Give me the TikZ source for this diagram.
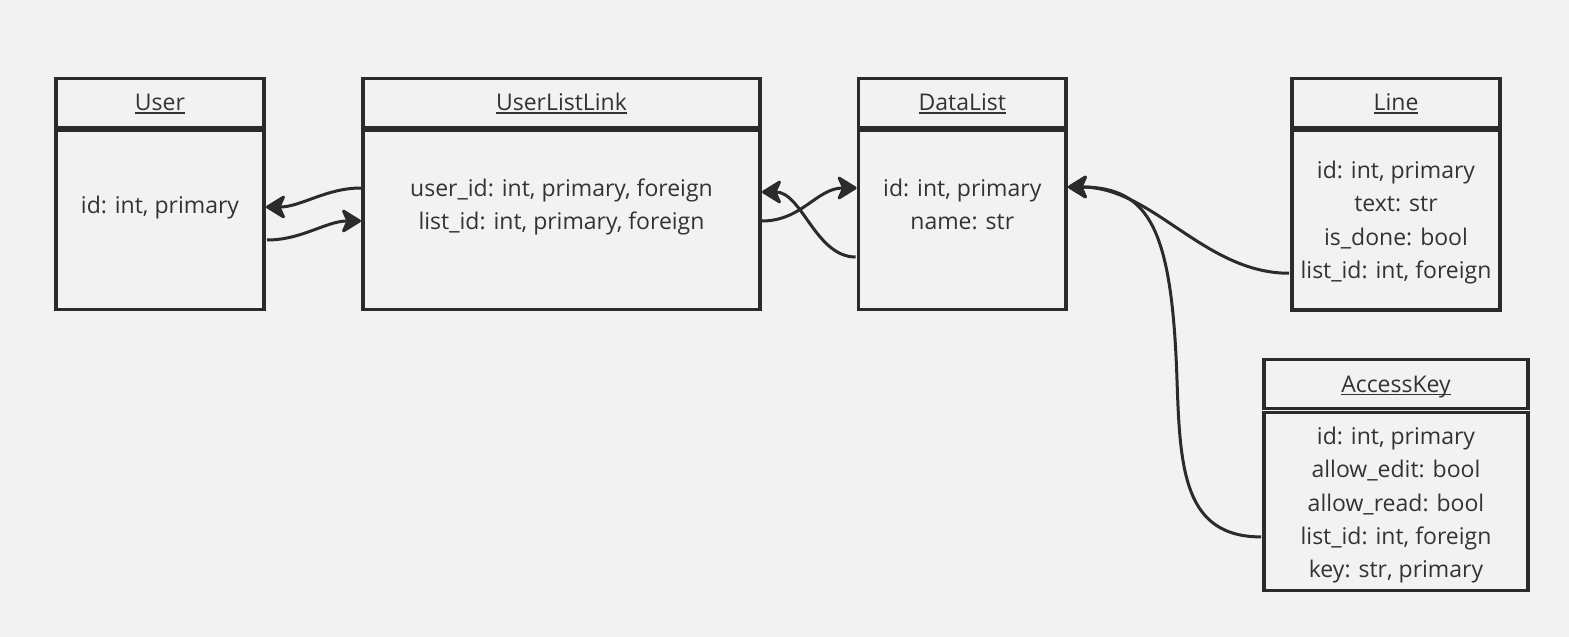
\documentclass[tikz,border=0pt]{standalone}
\usepackage{fontspec}
\setmainfont{Open Sans}
\usetikzlibrary{arrows.meta,calc}
\definecolor{bg}{HTML}{F2F2F2}
\definecolor{ink}{HTML}{2B2B2B}
\definecolor{txt}{HTML}{333333}
\newcommand{\uln}[1]{\leavevmode\setbox0\hbox{#1}\rlap{\rule[-3.2pt]{\wd0}{1.6pt}}\box0}
\begin{document}
\begin{tikzpicture}[x=1pt,y=-1pt,
  box/.style={draw=ink, line width=3.1pt, rectangle, inner sep=0pt, outer sep=0pt},
  txtnode/.style={text=txt, font=\fontsize{23}{33.3}\selectfont, align=center, inner sep=0pt, anchor=base},
  link/.style={draw=ink, line width=3pt},
  arr/.style={link, -{Stealth[length=22pt,width=27pt,inset=6pt,round]}}]
\fill[bg] (0,0) rectangle (1569,637);
\useasboundingbox (0,0) rectangle (1569,637);
% User
\node[box, minimum width=208pt, minimum height=49.3pt] (uh) at (160,103.35) {};
\node[box, minimum width=208pt, minimum height=179.2pt] (ub) at (160,220.1) {};
% UserListLink
\node[box, minimum width=397pt, minimum height=49.3pt] (ulh) at (561.5,103.35) {};
\node[box, minimum width=397pt, minimum height=179.2pt] (ulb) at (561.5,220.1) {};
% DataList
\node[box, minimum width=207.3pt, minimum height=49.3pt] (dlh) at (962.3,103.35) {};
\node[box, minimum width=207.3pt, minimum height=179.2pt] (dlb) at (962.3,220.1) {};
% Line
\node[box, minimum width=208pt, minimum height=49.3pt] (lnh) at (1396,103.35) {};
\node[box, minimum width=208pt, minimum height=179.5pt] (lnb) at (1396,220.25) {};
% AccessKey
\node[box, minimum width=264pt, minimum height=49pt] (akh) at (1396,384) {};
\node[box, minimum width=264pt, minimum height=178.6pt] (akb) at (1396,501.4) {};

% titles
\node[txtnode] (ut) at (160,110.7) {\uln{User}};
\node[txtnode] (ult) at (561.5,110.7) {\uln{UserListLink}};
\node[txtnode] (dlt) at (962.3,110.7) {\uln{DataList}};
\node[txtnode] (lnt) at (1396,110.7) {\uln{Line}};
\node[txtnode] (akt) at (1396,392.2) {\uln{AccessKey}};

% bodies (anchor = baseline of the last line)
\node[txtnode] (ubt) at (160,213.3) {id: int, primary};
\node[txtnode] (ulbt) at (561.5,229.6) {user\_id: int, primary, foreign\\list\_id: int, primary, foreign};
\node[txtnode] (dlbt) at (962.3,229.6) {id: int, primary\\name: str};
\node[txtnode] (lnbt) at (1396,278.5) {id: int, primary\\text: str\\is\_done: bool\\list\_id: int, foreign};
\node[txtnode] (akbt) at (1396,577.8) {id: int, primary\\allow\_edit: bool\\allow\_read: bool\\list\_id: int, foreign\\key: str, primary};

% connectors
\draw[arr] ($(ulb.west)+(-2,-32.1)$) .. controls +(-35,0) and +(35,0) .. ($(ub.east)+(2,-13.1)$);
\draw[arr] ($(ub.east)+(3,19.9)$) .. controls +(35,0) and +(-35,0) .. ($(ulb.west)+(-2,0.9)$);
\draw[arr] ($(ulb.east)+(2,0.9)$) .. controls +(40,0) and +(-40,0) .. ($(dlb.west)+(-2,-32.1)$);
\draw[arr] ($(dlb.west)+(-3,36.9)$) .. controls +(-40,0) and +(40,0) .. ($(ulb.east)+(2,-28.1)$);
\draw[arr] ($(lnb.west)+(-3,53)$) .. controls +(-85,0) and +(85,0) .. ($(dlb.east)+(2,-33.1)$);
\draw[arr] ($(akb.west)+(-3,35.5)$) .. controls +(-77,0) and (1180,470) .. (1177,380)
  .. controls (1172,230) and (1150,187) .. ($(dlb.east)+(2,-33.1)$);
\end{tikzpicture}
\end{document}
